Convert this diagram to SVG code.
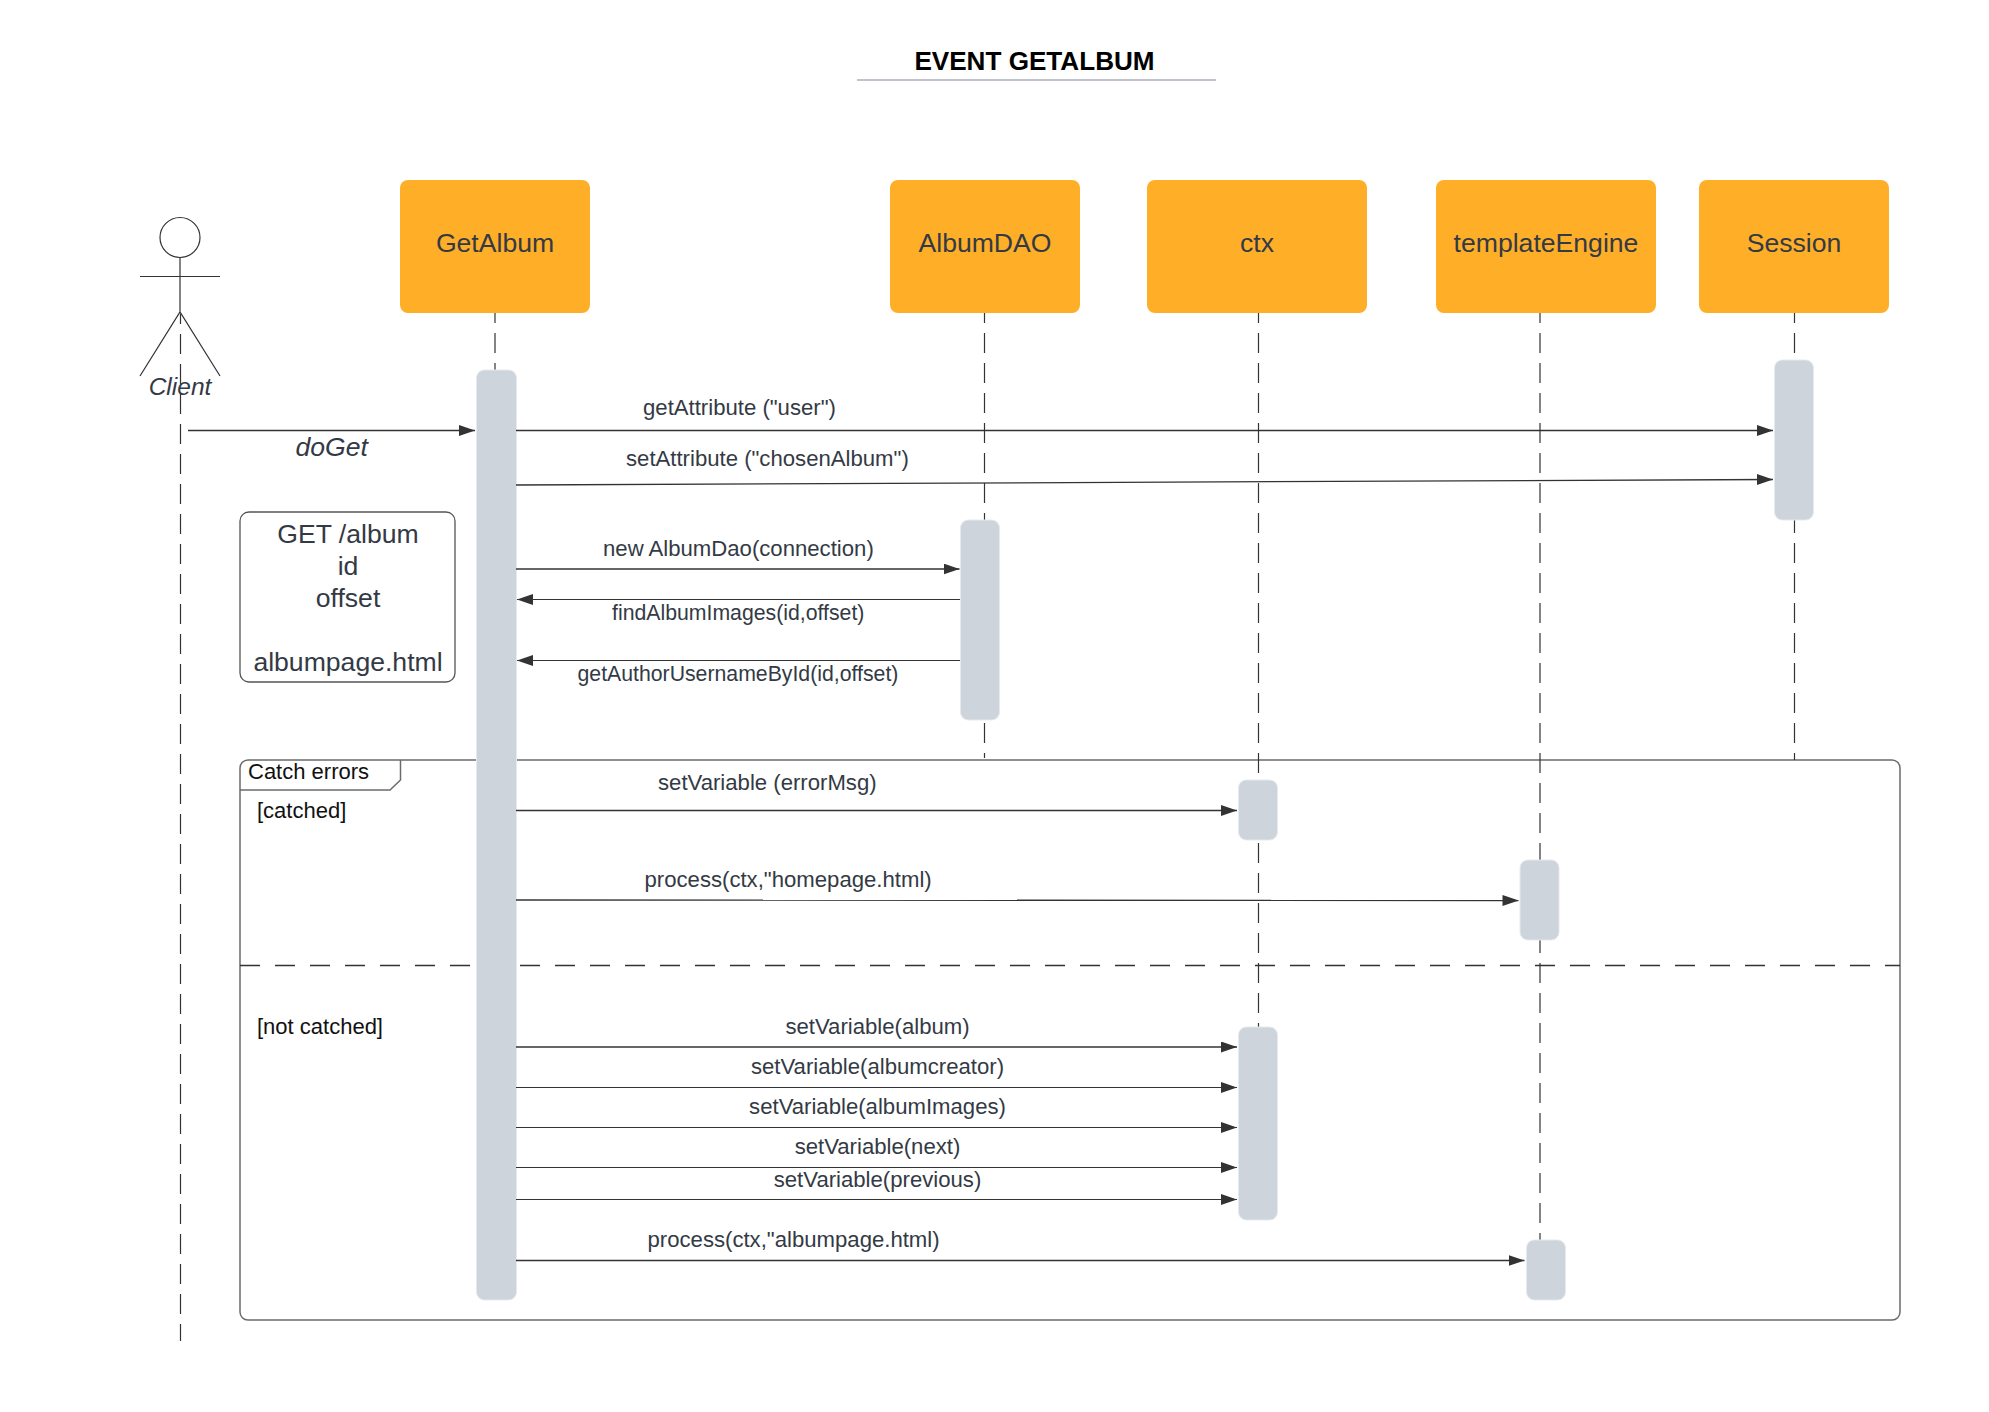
<svg xmlns="http://www.w3.org/2000/svg" width="1989" height="1412" viewBox="0 0 1989 1412">
<defs>
<style>
text{font-family:"Liberation Sans",Arial,sans-serif;fill:#333a45}
.box{fill:#ffae28}
.act{fill:#ced4db;stroke:#e6e9ed;stroke-width:1}
.name{font-size:26.6px;text-anchor:middle}
.msg{font-size:22.15px}
.sm{font-size:21.25px}
.mid{text-anchor:middle}
.big{font-size:26.6px}
.life{fill:none;stroke:#333;stroke-width:1.2;stroke-dasharray:20 10;stroke-dashoffset:10}
.call{fill:none;stroke:#333;stroke-width:1.3;marker-end:url(#head)}
.back{fill:none;stroke:#333;stroke-width:1;marker-end:url(#head)}
.frame{fill:none;stroke:#6b6b6b;stroke-width:1.5}
.blk{font-size:22px;fill:#111}
.fig{fill:none;stroke:#333;stroke-width:1.2}
</style>
<marker id="head" markerUnits="userSpaceOnUse" markerWidth="16" markerHeight="12" refX="16" refY="5.5" orient="auto">
<path d="M0 0L16 5.500L0 11Z" fill="#333"/>
</marker>
</defs>
<rect width="1989" height="1412" fill="#fff"/>
<g id="title">
<text x="1034.500" y="70" text-anchor="middle" font-size="26.100" font-weight="700" style="fill:#000">EVENT GETALBUM</text>
<line x1="857" y1="80" x2="1216" y2="80" stroke="#a9afbc" stroke-width="1.5"/>
</g>
<g id="frame-catch-errors">
<path class="frame" d="M248 760H1892a8 8 0 0 1 8 8V1312a8 8 0 0 1 -8 8H248a8 8 0 0 1 -8 -8V768a8 8 0 0 1 8 -8Z"/>
<path class="frame" d="M240 790H390L400.500 780V760"/>
<line x1="240" y1="965.500" x2="1900" y2="965.500" stroke="#333" stroke-width="1.300" stroke-dasharray="20 15"/>
<text class="blk" x="248" y="779">Catch errors</text>
<text class="blk" x="257" y="818">[catched]</text>
<text class="blk" x="257" y="1034">[not catched]</text>
</g>
<g id="connectors">
<line class="life" x1="180.500" y1="314" x2="180.500" y2="1341"/>
<line class="life" x1="495" y1="313" x2="495" y2="370"/>
<line class="life" x1="984.500" y1="313" x2="984.500" y2="758"/>
<line class="life" x1="1258.500" y1="313" x2="1258.500" y2="1027"/>
<line class="life" x1="1540" y1="313" x2="1540" y2="1240"/>
<line class="life" x1="1794.500" y1="313" x2="1794.500" y2="760"/>
</g>
<g id="note-get-album">
<rect x="240" y="512" width="215" height="170" rx="9" fill="#fff" stroke="#555" stroke-width="1.300"/>
<text class="big mid" x="348" y="543">GET /album</text>
<text class="big mid" x="348" y="575">id</text>
<text class="big mid" x="348" y="607">offset</text>
<text class="big mid" x="348" y="671">albumpage.html</text>
</g>
<g id="client">
<ellipse class="fig" cx="180" cy="237.500" rx="20" ry="20"/>
<path class="fig" d="M180 257.500V312M140 276.500H220M140 376L180 312L220 376"/>
<text x="180" y="395" text-anchor="middle" font-size="24.500" font-style="italic">Client</text>
</g>
<g id="getalbum"><rect class="box" x="400" y="180" width="190" height="133" rx="8"/><text class="name" x="495" y="251.500">GetAlbum</text></g>
<g id="albumdao"><rect class="box" x="890" y="180" width="190" height="133" rx="8"/><text class="name" x="985" y="251.500">AlbumDAO</text></g>
<g id="ctx"><rect class="box" x="1147" y="180" width="220" height="133" rx="8"/><text class="name" x="1257" y="251.500">ctx</text></g>
<g id="templateengine"><rect class="box" x="1436" y="180" width="220" height="133" rx="8"/><text class="name" x="1546" y="251.500">templateEngine</text></g>
<g id="session"><rect class="box" x="1699" y="180" width="190" height="133" rx="8"/><text class="name" x="1794" y="251.500">Session</text></g>
<g id="activations">
<rect id="act-getalbum" class="act" x="476.500" y="370" width="40" height="930" rx="8"/>
<rect id="act-session" class="act" x="1774.500" y="360" width="39" height="160" rx="8"/>
<rect id="act-albumdao" class="act" x="960.500" y="520" width="39" height="200" rx="8"/>
<rect id="act-ctx-1" class="act" x="1238.500" y="780" width="39" height="60" rx="8"/>
<rect id="act-tmpl-1" class="act" x="1520" y="860" width="39" height="80" rx="8"/>
<rect id="act-ctx-2" class="act" x="1238.500" y="1027" width="39" height="193" rx="8"/>
<rect id="act-tmpl-2" class="act" x="1526.500" y="1240" width="39" height="60" rx="8"/>
</g>
<g id="messages">
<line class="call" x1="188" y1="430.500" x2="475" y2="430.500"/>
<line class="call" x1="516" y1="430.500" x2="1773" y2="430.500"/>
<line class="call" x1="516" y1="485" x2="1773" y2="479.500"/>
<line class="call" x1="516" y1="569" x2="959.500" y2="569"/>
<line class="back" x1="960" y1="599.500" x2="517" y2="599.500"/>
<line class="back" x1="960" y1="660.500" x2="517" y2="660.500"/>
<line class="call" x1="516" y1="810.500" x2="1237" y2="810.500"/>
<line class="call" x1="516" y1="900" x2="1518.500" y2="900.500"/>
<line class="call" x1="516" y1="1047" x2="1237" y2="1047"/>
<line class="back" x1="516" y1="1087.500" x2="1237" y2="1087.500"/>
<line class="back" x1="516" y1="1127.500" x2="1237" y2="1127.500"/>
<line class="back" x1="516" y1="1167.500" x2="1237" y2="1167.500"/>
<line class="back" x1="516" y1="1199.500" x2="1237" y2="1199.500"/>
<line class="call" x1="516" y1="1260.500" x2="1524.500" y2="1260.500"/>
</g>
<g id="message-labels">
<text x="295.500" y="455.500" font-size="26.6" font-style="italic">doGet</text>
<text class="msg" x="643" y="415">getAttribute ("user")</text>
<text class="msg" x="626" y="466">setAttribute ("chosenAlbum")</text>
<text class="msg" x="603" y="555.500">new AlbumDao(connection)</text>
<text class="sm" x="612" y="620">findAlbumImages(id,offset)</text>
<text class="sm" x="577.500" y="681">getAuthorUsernameById(id,offset)</text>
<text class="msg" x="658" y="789.500">setVariable (errorMsg)</text>
<text class="msg" x="644.500" y="886.500">process(ctx,"homepage.html)</text>
<text class="msg mid" x="877.500" y="1033.500">setVariable(album)</text>
<text class="msg mid" x="877.500" y="1073.500">setVariable(albumcreator)</text>
<text class="msg mid" x="877.500" y="1113.500">setVariable(albumImages)</text>
<text class="msg mid" x="877.500" y="1153.500">setVariable(next)</text>
<text class="msg mid" x="877.500" y="1187">setVariable(previous)</text>
<text class="msg" x="647.500" y="1247">process(ctx,"albumpage.html)</text>
</g>
</svg>
